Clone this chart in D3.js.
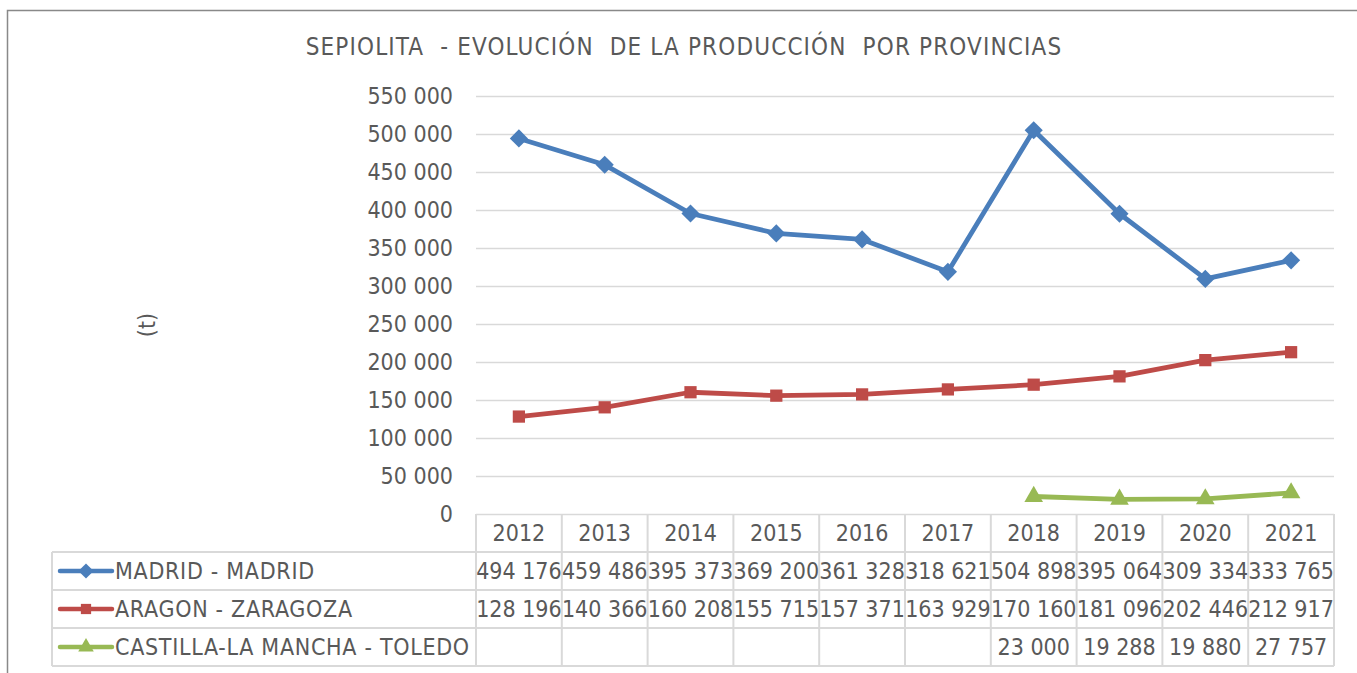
<!DOCTYPE html>
<html>
<head>
<meta charset="utf-8">
<script src="https://cdn.jsdelivr.net/npm/d3@7"></script>
<style>
  body { margin: 0; background: #fff; }
  text { font-family: "DejaVu Sans Condensed", "DejaVu Sans", sans-serif; fill: #595959; }
</style>
</head>
<body>
<div id="chart"></div>
<script>
  // datos
  var years = ["2012","2013","2014","2015","2016","2017","2018","2019","2020","2021"];
  var seriesNames = ["MADRID - MADRID", "ARAGON - ZARAGOZA", "CASTILLA-LA MANCHA - TOLEDO"];
  var madrid = [494176, 459486, 395373, 369200, 361328, 318621, 504898, 395064, 309334, 333765];
  var aragon = [128196, 140366, 160208, 155715, 157371, 163929, 170160, 181096, 202446, 212917];
  var toledo = [null, null, null, null, null, null, 23000, 19288, 19880, 27757];
  var yTicks = [0, 50000, 100000, 150000, 200000, 250000, 300000, 350000, 400000, 450000, 500000, 550000];
  var colors = ["#4a7ebb", "#be4b48", "#98b954"];
  var allSeries = [madrid, aragon, toledo];

  var W = 1357, H = 673;
  var pLeft = 476, pRight = 1334, pTop = 96, pBottom = 514;
  var rowH = 38, legLeft = 52;
  var fs = "23px";

  var fmt = function(v) { return d3.format(",")(v).replace(/,/g, " "); };

  // marcador: rombo = cuadrado girado 45 grados
  var markers = [
    { type: d3.symbolSquare, size: 165, rot: 45 },
    { type: d3.symbolSquare, size: 150, rot: 0 },
    { type: d3.symbolTriangle, size: 150, rot: 0 }
  ];

  var svg = d3.select("#chart").append("svg")
    .attr("width", W).attr("height", H);

  // marco
  svg.append("rect")
    .attr("x", 7.5).attr("y", 10.5)
    .attr("width", W + 10).attr("height", H + 10)
    .attr("fill", "none").attr("stroke", "#898989").attr("stroke-width", 1.5);

  var x = d3.scaleBand().domain(years).range([pLeft, pRight]);
  var y = d3.scaleLinear().domain([0, 550000]).range([pBottom, pTop]);

  // titulo
  svg.append("text")
    .attr("x", 684).attr("y", 55)
    .attr("text-anchor", "middle")
    .style("font-size", "24px")
    .style("white-space", "pre")
    .style("letter-spacing", "1.15px")
    .text("SEPIOLITA  - EVOLUCIÓN  DE LA PRODUCCIÓN  POR PROVINCIAS");

  // eje y con rejilla
  var yAxis = svg.append("g")
    .attr("transform", "translate(" + pLeft + ",0)")
    .call(d3.axisLeft(y).tickValues(yTicks).tickSize(-(pRight - pLeft)).tickPadding(23).tickFormat(fmt));
  yAxis.select(".domain").remove();
  yAxis.selectAll(".tick line").attr("stroke", "#d9d9d9").attr("stroke-width", 1.3);
  yAxis.selectAll(".tick text").style("font-size", fs).attr("fill", "#595959")
    .attr("font-family", null);

  svg.append("text")
    .attr("transform", "translate(155,325) rotate(-90)")
    .attr("text-anchor", "middle")
    .style("font-size", fs)
    .text("(t)");

  // lineas
  var line = d3.line()
    .defined(function(d) { return d != null; })
    .x(function(d, i) { return x(years[i]) + x.bandwidth() / 2; })
    .y(function(d) { return y(d); });

  allSeries.forEach(function(s, k) {
    svg.append("path")
      .datum(s)
      .attr("d", line)
      .attr("fill", "none")
      .attr("stroke", colors[k])
      .attr("stroke-width", 4.8)
      .attr("stroke-linejoin", "round");
    svg.selectAll(".m" + k)
      .data(s.map(function(v, i) { return {v: v, i: i}; }).filter(function(d) { return d.v != null; }))
      .enter().append("path")
      .attr("transform", function(d) {
        return "translate(" + (x(years[d.i]) + x.bandwidth() / 2) + "," + y(d.v) + ") rotate(" + markers[k].rot + ")";
      })
      .attr("d", d3.symbol().type(markers[k].type).size(markers[k].size))
      .attr("fill", colors[k]);
  });

  // tabla de datos
  var grid = svg.append("g").attr("stroke", "#d9d9d9").attr("stroke-width", 2).attr("fill", "none");
  grid.append("line").attr("x1", pRight).attr("x2", pRight).attr("y1", pBottom).attr("y2", pBottom + 4 * rowH);
  for (var r = 1; r <= 4; r++) {
    grid.append("line").attr("x1", legLeft).attr("x2", pRight)
      .attr("y1", pBottom + r * rowH).attr("y2", pBottom + r * rowH);
  }
  grid.append("line").attr("x1", legLeft).attr("x2", legLeft).attr("y1", pBottom + rowH).attr("y2", pBottom + 4 * rowH);
  years.forEach(function(yr) {
    grid.append("line").attr("x1", x(yr)).attr("x2", x(yr)).attr("y1", pBottom).attr("y2", pBottom + 4 * rowH);
  });

  // cabecera de años
  svg.selectAll(".yr").data(years).enter().append("text")
    .attr("x", function(d) { return x(d) + x.bandwidth() / 2; })
    .attr("y", pBottom + rowH / 2 + 8)
    .attr("text-anchor", "middle")
    .style("font-size", fs)
    .text(function(d) { return d; });

  // filas
  allSeries.forEach(function(s, k) {
    var cy = pBottom + (k + 1) * rowH + rowH / 2;
    var leg = svg.append("g");
    leg.append("line").attr("x1", 60).attr("x2", 112).attr("y1", cy).attr("y2", cy)
      .attr("stroke", colors[k]).attr("stroke-width", 4.5).attr("stroke-linecap", "round");
    leg.append("path")
      .attr("transform", "translate(86," + cy + ") rotate(" + markers[k].rot + ")")
      .attr("d", d3.symbol().type(markers[k].type).size(markers[k].size * 0.7))
      .attr("fill", colors[k]);
    leg.append("text").attr("x", 115).attr("y", cy + 8)
      .style("font-size", fs).style("letter-spacing", "0.7px").text(seriesNames[k]);

    svg.selectAll(".v" + k).data(s).enter().append("text")
      .attr("x", function(d, i) { return x(years[i]) + x.bandwidth() / 2; })
      .attr("y", cy + 8)
      .attr("text-anchor", "middle")
      .style("font-size", fs)
      .text(function(d) { return d == null ? "" : fmt(d); });
  });
</script>
</body>
</html>
